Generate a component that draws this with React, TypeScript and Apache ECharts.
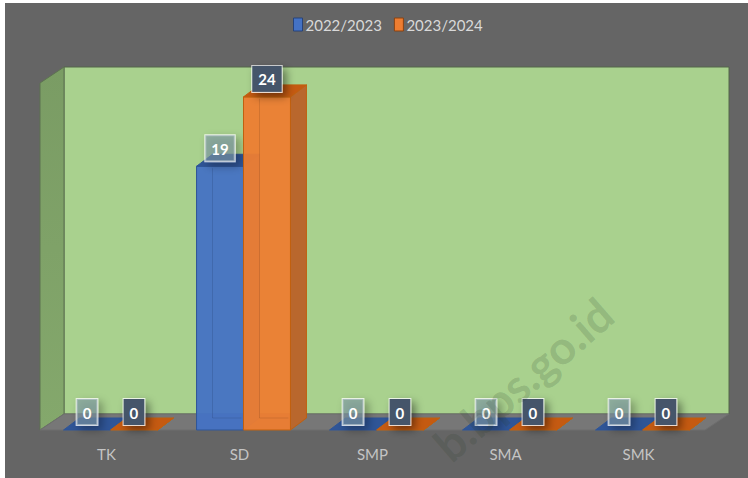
import React, { useEffect, useRef } from "react";
import * as echarts from "echarts";

const categories = ["TK", "SD", "SMP", "SMA", "SMK"];
const seriesNames = ["2022/2023", "2023/2024"];
const values2022 = [0, 19, 0, 0, 0];
const values2023 = [0, 24, 0, 0, 0];

const DX = 16;
const DY = -12;
const WALL_DX = 24;
const WALL_DY = -16;

const palettes = [
  {
    front: "rgba(68,114,196,0.95)",
    side: "#3a5f9f",
    top: "#2f5597",
    edge: "#2f5597",
    label: "rgba(125,150,165,0.6)",
  },
  {
    front: "rgba(237,125,49,0.95)",
    side: "#b9672d",
    top: "#c55a11",
    edge: "#c0600f",
    label: "#44546a",
  },
];

function barRender(sIdx: number) {
  const p = palettes[sIdx];
  return (params: any, api: any) => {
    const cat = api.value(0);
    const val = api.value(1);
    const base = api.coord([cat, 0]);
    const top = api.coord([cat, val]);
    const band = api.size([1, 0])[0];
    const w = band * 0.353;
    const shift = band * 0.03;
    const x = sIdx === 0 ? base[0] - w + shift : base[0] + shift;
    const yb = base[1];
    const yt = top[1];
    const children: any[] = [];
    if (val > 0) {
      children.push({
        type: "polyline",
        shape: { points: [[x + DX, yt + DY], [x + DX, yb + DY], [x + w + DX, yb + DY]] },
        style: { stroke: "rgba(0,0,0,0.15)", lineWidth: 1, fill: "none" },
        z2: 1,
      });
    }
    children.push({
      type: "polygon",
      shape: { points: [[x + w, yt], [x + w + DX, yt + DY], [x + w + DX, yb + DY], [x + w, yb]] },
      style: { fill: p.side, stroke: p.edge, lineWidth: 1 },
      z2: 2,
    });
    if (val > 0) {
      children.push({
        type: "rect",
        shape: { x, y: yt, width: w, height: yb - yt },
        style: { fill: p.front, stroke: p.edge, lineWidth: 1 },
        z2: 3,
      });
      children.push({
        type: "polyline",
        shape: { points: [[x + DX, yt + 2], [x + DX, yb + DY], [x + w - 2, yb + DY]] },
        style: { stroke: "rgba(0,0,0,0.1)", lineWidth: 1, fill: "none" },
        z2: 4,
      });
    }
    children.push({
      type: "polygon",
      shape: { points: [[x, yt], [x + DX, yt + DY], [x + w + DX, yt + DY], [x + w, yt]] },
      style: { fill: p.top, stroke: p.edge, lineWidth: 1 },
      z2: 4,
    });
    children.push({
      type: "text",
      x: x + w / 2,
      y: yt - 5,
      style: {
        text: String(val),
        fill: "#ffffff",
        font: "bold 15px Lato, 'Open Sans', sans-serif",
        align: "center",
        verticalAlign: "bottom",
        backgroundColor: p.label,
        borderColor: "rgba(255,255,255,0.75)",
        borderWidth: 1,
        padding: [6, 6, 5, 6],
        shadowColor: "rgba(0,0,0,0.45)",
        shadowBlur: 8,
        shadowOffsetX: 4,
        shadowOffsetY: 4,
      },
      z2: 50,
    });
    return { type: "group", children };
  };
}

function wallsRender(params: any, api: any) {
  const cs = params.coordSys;
  const x0 = cs.x;
  const x1 = cs.x + cs.width;
  const yt = cs.y;
  const yb = cs.y + cs.height;
  return {
    type: "group",
    children: [
      {
        type: "rect",
        shape: { x: x0 + WALL_DX, y: yt + WALL_DY, width: x1 - x0, height: yb - yt },
        style: { fill: "#a9d18e", stroke: "#55664a", lineWidth: 1 },
      },
      {
        type: "polygon",
        shape: { points: [[x0, yt], [x0 + WALL_DX, yt + WALL_DY], [x0 + WALL_DX, yb + WALL_DY], [x0, yb]] },
        style: {
          fill: new echarts.graphic.LinearGradient(0, 0, 0, 1, [
            { offset: 0, color: "#7a9c64" },
            { offset: 1, color: "#84a86c" },
          ]),
          stroke: "#5d7350",
          lineWidth: 1,
        },
      },
      {
        type: "polygon",
        shape: { points: [[x0, yb], [x0 + WALL_DX, yb + WALL_DY], [x1 + WALL_DX, yb + WALL_DY], [x1, yb]] },
        style: { fill: "#777777", stroke: "#6e6e6e", lineWidth: 1 },
      },
    ],
  };
}

export default function App() {
  const ref = useRef<HTMLDivElement>(null);
  useEffect(() => {
    document.body.style.margin = "0";
    if (!ref.current) return;
    const chart = echarts.init(ref.current, null, { renderer: "svg" });
    const data0 = values2022.map((v, i) => [i, v]);
    const data1 = values2023.map((v, i) => [i, v]);
    chart.setOption({
      animation: false,
      backgroundColor: "#656565",
      textStyle: { fontFamily: "Lato, 'Open Sans', sans-serif" },
      legend: {
        left: 283,
        top: 9,
        itemWidth: 9,
        itemHeight: 13,
        itemGap: 12,
        icon: "rect",
        textStyle: { color: "#d9d9d9", fontSize: 15, padding: [0, 0, 0, -2] },
        data: [
          { name: seriesNames[0], itemStyle: { color: "#4472c4", borderColor: "#26437a", borderWidth: 1 } },
          { name: seriesNames[1], itemStyle: { color: "#ed7d31", borderColor: "#8a4210", borderWidth: 1 } },
        ],
      },
      grid: { left: 35, right: 43, top: 80, bottom: 48 },
      xAxis: {
        type: "category",
        data: categories,
        axisLine: { show: false },
        axisTick: { show: false },
        axisLabel: { color: "#c4c4c4", fontSize: 15, margin: 16 },
        splitLine: { show: false },
      },
      yAxis: {
        type: "value",
        min: 0,
        max: 25,
        show: false,
        splitLine: { show: false },
      },
      series: [
        {
          type: "custom",
          name: "walls",
          renderItem: wallsRender,
          data: [[0, 0]],
          encode: { x: 0, y: 1 },
          silent: true,
          z: 1,
        },
        {
          type: "custom",
          name: seriesNames[0],
          renderItem: barRender(0),
          data: data0,
          encode: { x: 0, y: 1 },
          itemStyle: { color: "#4472c4" },
          z: 3,
        },
        {
          type: "custom",
          name: seriesNames[1],
          renderItem: barRender(1),
          data: data1,
          encode: { x: 0, y: 1 },
          itemStyle: { color: "#ed7d31" },
          z: 4,
        },
      ],
      graphic: [
        {
          type: "text",
          x: 518,
          y: 376,
          rotation: (41 * Math.PI) / 180,
          z: 100,
          style: {
            text: "b.bps.go.id",
            font: "bold 46px Lato, 'Open Sans', sans-serif",
            fill: "rgba(40,60,40,0.18)",
            align: "center",
            verticalAlign: "middle",
          },
        },
      ],
    });
    return () => chart.dispose();
  }, []);
  return (
    <div style={{ position: "relative", width: 748, height: 478, background: "#ffffff" }}>
      <div ref={ref} style={{ position: "absolute", left: 5, top: 3, width: 743, height: 475 }} />
    </div>
  );
}
